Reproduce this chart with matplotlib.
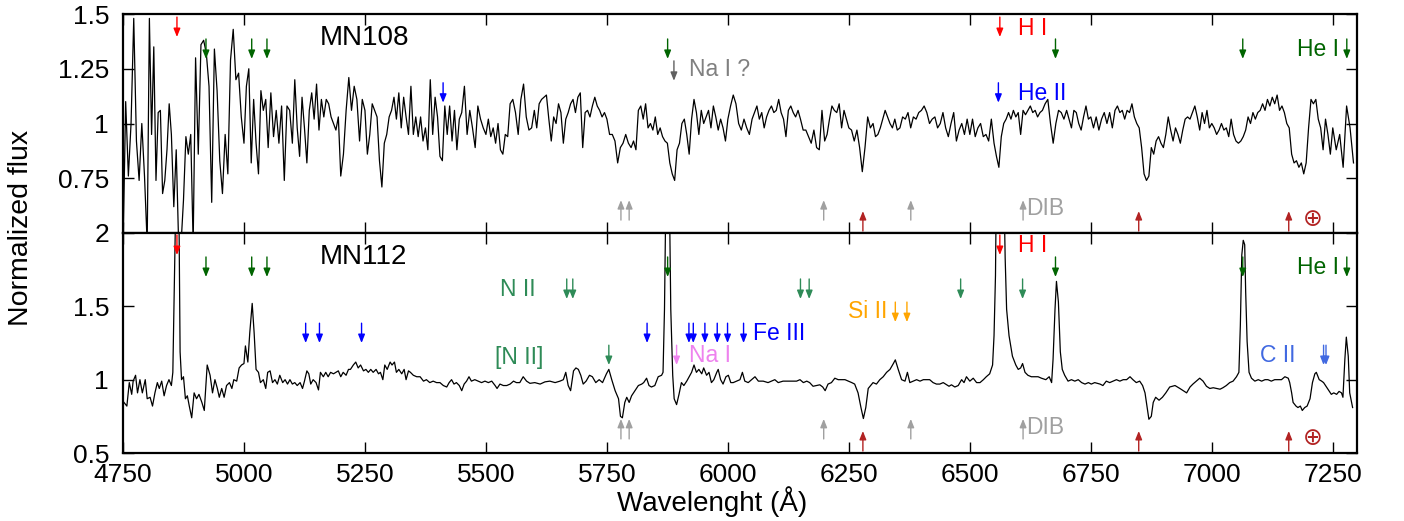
"""
Spectra of MN108 and MN112 with line identifications
"""

import numpy as np
import matplotlib
matplotlib.use("Agg")
import matplotlib.pyplot as plt
import matplotlib.transforms as mtransforms
from matplotlib.ticker import FuncFormatter

# ---- MN108 (top), flux read in 50 A blocks starting at 4750 ----
top_block_start = 4750
top_block_width = 50
top_flux_blocks = [
    [0.42, 1.10, 0.76, 1.00, 1.48, 0.92, 0.74, 1.00, 0.76],
    [0.45, 1.48, 0.95, 1.35, 0.74, 1.05, 1.06, 0.68, 0.74, 0.88, 1.09],
    [0.95, 0.62, 0.88, 0.45, 0.45, 0.65, 0.94, 0.86, 0.95, 0.45],
    [1.30, 0.86, 1.36, 1.38, 1.32, 1.17, 0.64, 1.34, 1.15],
    [0.83, 0.68, 0.95, 0.77, 1.29, 1.43, 1.20, 1.23, 1.03],
    [0.91, 1.17, 1.25, 0.82, 1.11, 0.91, 0.77, 1.15, 1.06, 1.11],
    [0.89, 1.14, 0.94, 1.06, 0.91, 1.08, 0.74, 1.08, 1.06],
    [0.91, 1.20, 0.98, 0.85, 1.12, 0.98, 0.82, 1.06, 1.14, 1.02],
    [1.18, 0.97, 1.11, 1.03, 1.11, 1.09, 1.03, 1.00, 0.97, 1.03],
    [0.76, 0.86, 1.06, 1.21, 1.06, 1.17, 1.11, 0.92, 1.11],
    [1.06, 0.86, 0.95, 1.09, 1.06, 1.03, 0.83, 0.71, 0.91, 0.95],
    [1.03, 1.06, 1.12, 1.02, 1.14, 0.98, 1.12, 1.03, 0.95, 1.17],
    [0.95, 1.03, 0.94, 1.03, 0.92, 0.98, 0.88, 1.20, 0.95, 1.12],
    [1.03, 0.85, 0.83, 1.08, 0.95, 1.08, 0.92, 1.06, 0.88, 1.02],
    [1.05, 1.17, 0.95, 1.06, 0.98, 0.89, 1.08, 1.02, 0.98],
    [0.95, 1.02, 0.94, 0.98, 0.91, 1.00, 0.88, 0.86, 0.95, 0.94],
    [1.09, 1.11, 1.05, 0.95, 1.11, 1.18, 1.03, 0.97, 0.98],
    [1.06, 0.98, 1.09, 1.11, 1.12, 1.13, 1.02, 0.92, 1.03, 1.00],
    [1.09, 1.05, 0.91, 1.02, 1.05, 1.09, 1.11, 1.05, 1.12, 1.14],
    [0.89, 1.05, 1.06, 1.03, 1.08, 1.12, 1.08, 1.06, 1.03, 1.05],
    [1.02, 0.95, 0.95, 0.92, 0.82, 0.89, 0.91, 0.95, 0.91],
    [0.89, 0.92, 0.88, 1.06, 1.08, 1.02, 1.09, 0.98, 1.00, 0.97],
    [1.03, 0.95, 0.98, 0.94, 0.92, 0.91, 0.82, 0.77, 0.74, 0.88],
    [0.91, 1.00, 1.02, 0.95, 0.86, 1.02, 1.11, 1.05, 0.95, 1.06],
    [1.00, 1.03, 1.06, 0.98, 1.08, 1.03, 0.97, 1.02, 0.98, 0.92],
    [1.02, 1.08, 1.13, 1.09, 1.00, 0.97, 1.02, 0.98, 0.95],
    [1.02, 1.05, 1.08, 1.02, 1.05, 0.98, 1.03, 1.06, 1.08, 1.05],
    [1.06, 1.11, 1.05, 1.02, 0.94, 1.06, 1.08, 1.05, 1.03, 1.06],
    [1.02, 0.97, 0.97, 0.94, 0.91, 0.97, 0.89, 0.88, 1.06],
    [0.92, 0.95, 1.02, 1.08, 1.06, 1.05, 1.09, 0.98, 1.06, 1.02],
    [0.98, 0.97, 0.92, 0.97, 0.89, 0.78, 0.89, 1.03, 0.98],
    [1.00, 0.94, 0.95, 0.98, 1.02, 1.06, 1.03, 1.00, 0.98, 1.02],
    [0.97, 0.98, 1.03, 1.02, 1.05, 0.98, 1.03, 1.02, 1.05],
    [1.06, 1.08, 1.05, 1.00, 1.02, 1.03, 0.98, 1.00, 1.05],
    [0.98, 0.94, 1.00, 1.05, 0.92, 0.97, 1.00, 0.95, 1.02],
    [0.95, 1.02, 0.94, 0.98, 1.00, 0.94, 0.95, 0.92, 1.02],
    [0.91, 0.85, 0.80, 0.94, 1.00, 1.02, 1.05, 1.02, 1.06, 1.03],
    [1.05, 0.95, 1.06, 1.04, 1.06, 1.08, 1.05, 1.06, 1.03, 1.05],
    [1.06, 1.09, 1.11, 1.00, 0.91, 1.00, 1.06, 1.05, 1.02],
    [1.06, 1.02, 0.98, 1.06, 1.05, 1.00, 0.97, 1.03, 1.08, 1.02],
    [1.03, 0.98, 1.03, 0.97, 1.02, 1.05, 1.00, 1.05, 0.98],
    [1.06, 1.08, 1.05, 1.06, 1.02, 1.06, 1.05, 1.09, 1.03, 1.00],
    [0.98, 0.89, 0.77, 0.74, 0.76, 0.89, 0.86, 0.92, 0.94, 0.91],
    [0.89, 0.95, 1.03, 0.97, 0.92, 0.98, 0.95, 0.91, 0.97, 1.02],
    [1.03, 1.02, 1.05, 1.08, 1.03, 0.97, 1.05, 1.00, 1.06, 0.98],
    [1.00, 0.98, 0.95, 0.97, 1.00, 0.97, 0.98, 0.94, 1.02, 0.95],
    [0.92, 0.91, 0.92, 0.94, 0.97, 1.03, 1.00, 1.05, 1.02, 1.05],
    [1.06, 1.09, 1.06, 1.11, 1.08, 1.12, 1.09, 1.13, 1.06, 1.08],
    [1.05, 1.00, 0.98, 0.86, 0.82, 0.83, 0.80, 0.82, 0.77, 0.82],
    [0.98, 1.11, 1.09, 1.11, 1.02, 0.98, 0.88, 1.02, 0.95, 0.86],
    [0.98, 0.88, 0.95, 0.80, 1.08, 0.98, 0.82],
]

# ---- MN112 (bottom) ----
bot_wl = [4752, 4758, 4763, 4768, 4771, 4776, 4780, 4785, 4790, 4796, 4800, 4806, 4811, 4816,
          4821, 4825, 4830, 4835, 4840, 4845, 4850, 4853, 4857, 4860, 4865, 4868, 4871, 4875,
          4879, 4883, 4887, 4892, 4897, 4902, 4907, 4913, 4918, 4924, 4930, 4935, 4940, 4945,
          4949, 4954, 4959, 4964, 4970, 4975, 4979, 4985, 4990, 4995, 5000, 5003, 5008, 5012,
          5017, 5021, 5025, 5030, 5034, 5040, 5045, 5049, 5054, 5059, 5064, 5069, 5074, 5080,
          5085, 5090, 5095, 5100, 5105, 5110, 5116, 5121, 5125, 5130, 5134, 5138, 5143, 5149,
          5154, 5158, 5164, 5169, 5174, 5179, 5185, 5190, 5195, 5200, 5205, 5211, 5216, 5220,
          5226, 5231, 5236, 5241, 5247, 5252, 5257, 5262, 5267, 5273, 5278, 5282, 5287, 5291,
          5296, 5302, 5306, 5311, 5315, 5320, 5326, 5331, 5335, 5340, 5344, 5350, 5357, 5364,
          5371, 5377, 5384, 5391, 5398, 5405, 5412, 5419, 5424, 5429, 5434, 5439, 5445, 5450,
          5455, 5460, 5465, 5470, 5477, 5484, 5491, 5498, 5505, 5512, 5519, 5523, 5529, 5536,
          5543, 5550, 5557, 5563, 5570, 5577, 5584, 5591, 5601, 5612, 5622, 5632, 5643, 5653,
          5660, 5665, 5670, 5675, 5681, 5686, 5691, 5696, 5701, 5707, 5714, 5720, 5727, 5734,
          5741, 5749, 5754, 5760, 5767, 5774, 5778, 5782, 5787, 5791, 5796, 5801, 5808, 5815,
          5822, 5826, 5832, 5837, 5842, 5849, 5856, 5863, 5866, 5869, 5872, 5879, 5882, 5886,
          5889, 5894, 5899, 5904, 5909, 5915, 5920, 5925, 5930, 5935, 5940, 5946, 5950, 5956,
          5961, 5966, 5971, 5977, 5980, 5985, 5990, 5996, 6001, 6006, 6011, 6018, 6025, 6030,
          6035, 6042, 6049, 6056, 6063, 6073, 6083, 6090, 6097, 6104, 6114, 6125, 6135, 6142,
          6149, 6156, 6163, 6169, 6176, 6183, 6190, 6196, 6201, 6207, 6214, 6221, 6228, 6235,
          6242, 6249, 6256, 6262, 6269, 6275, 6280, 6285, 6290, 6295, 6300, 6307, 6314, 6321,
          6328, 6335, 6342, 6346, 6352, 6359, 6366, 6371, 6376, 6383, 6390, 6397, 6404, 6410,
          6417, 6424, 6431, 6438, 6445, 6452, 6457, 6462, 6469, 6476, 6483, 6488, 6493, 6500,
          6507, 6514, 6521, 6528, 6534, 6541, 6547, 6550, 6553, 6555, 6561, 6570, 6573, 6576,
          6581, 6588, 6595, 6600, 6605, 6609, 6614, 6620, 6627, 6634, 6641, 6648, 6657, 6664,
          6669, 6672, 6676, 6679, 6683, 6687, 6691, 6696, 6703, 6710, 6717, 6724, 6731, 6738,
          6745, 6751, 6758, 6769, 6775, 6782, 6789, 6796, 6803, 6810, 6817, 6824, 6831, 6837,
          6844, 6851, 6857, 6862, 6866, 6870, 6875, 6879, 6884, 6891, 6898, 6905, 6913, 6924,
          6934, 6941, 6948, 6955, 6961, 6968, 6975, 6982, 6989, 6996, 7003, 7010, 7017, 7023,
          7030, 7037, 7044, 7051, 7056, 7059, 7062, 7065, 7068, 7070, 7073, 7077, 7082, 7089,
          7096, 7103, 7110, 7116, 7123, 7130, 7137, 7144, 7151, 7158, 7161, 7165, 7168, 7174,
          7178, 7183, 7187, 7192, 7197, 7203, 7208, 7213, 7216, 7222, 7227, 7231, 7237, 7242,
          7247, 7252, 7258, 7263, 7268, 7271, 7275, 7278, 7282, 7285, 7291]
bot_flux = [0.845, 0.82, 0.98, 0.90, 0.99, 1.03, 0.91, 1.00, 0.91, 1.00, 0.87, 0.88, 0.82, 0.91,
            0.98, 0.94, 0.99, 0.89, 0.96, 1.00, 0.96, 1.05, 1.83, 2.40, 2.40, 1.19, 1.00, 1.02,
            0.87, 0.89, 0.82, 0.74, 0.91, 0.87, 0.90, 0.845, 0.79, 1.10, 1.03, 0.91, 1.00, 0.94,
            0.88, 0.94, 0.88, 0.96, 0.98, 0.94, 1.00, 0.99, 1.08, 1.10, 1.11, 1.23, 1.12, 1.32,
            1.52, 1.32, 1.07, 1.05, 0.98, 1.00, 0.94, 1.05, 1.06, 0.98, 1.00, 0.97, 1.03, 0.98,
            1.00, 0.97, 1.00, 0.97, 0.98, 0.96, 0.98, 0.94, 0.99, 1.06, 1.04, 0.97, 1.00, 0.98,
            0.93, 1.05, 1.02, 1.05, 1.02, 1.05, 1.04, 1.05, 1.06, 1.02, 1.05, 1.03, 1.07, 1.07,
            1.10, 1.12, 1.08, 1.10, 1.06, 1.07, 1.05, 1.07, 1.05, 1.07, 1.04, 1.05, 1.00, 1.10,
            1.07, 1.12, 1.10, 1.12, 1.05, 1.07, 1.04, 1.07, 1.00, 1.06, 1.05, 1.03, 1.02, 1.02,
            0.99, 1.00, 0.98, 0.99, 0.98, 0.98, 0.96, 0.95, 0.98, 1.00, 0.97, 0.98, 0.96, 0.925,
            0.97, 0.99, 1.02, 0.99, 1.00, 0.99, 0.98, 0.99, 0.98, 0.99, 0.96, 0.94, 0.97, 0.96,
            0.96, 0.97, 0.99, 0.98, 0.98, 1.02, 0.99, 0.975, 0.98, 0.97, 0.985, 0.99, 0.98, 0.99,
            1.00, 1.05, 0.96, 0.925, 1.06, 1.08, 1.07, 1.03, 0.97, 0.99, 1.03, 1.02, 0.98, 1.00,
            0.98, 1.04, 1.07, 1.00, 0.925, 0.87, 0.75, 0.74, 0.845, 0.88, 0.845, 0.89, 0.925, 0.96,
            0.97, 0.98, 1.01, 0.96, 0.95, 0.96, 1.02, 1.03, 1.05, 1.48, 2.30, 2.30, 1.48, 1.03,
            0.87, 0.83, 0.90, 0.98, 0.96, 0.99, 1.02, 1.05, 1.10, 1.05, 1.07, 1.04, 1.08, 1.03,
            1.05, 0.98, 1.00, 1.05, 1.07, 1.00, 0.97, 1.02, 1.03, 0.98, 0.98, 0.99, 1.00, 1.05,
            0.99, 0.98, 1.00, 1.02, 0.99, 0.99, 0.98, 0.99, 1.00, 0.98, 0.99, 0.99, 0.99, 0.99,
            1.00, 0.98, 0.99, 0.98, 0.955, 0.96, 0.965, 0.95, 0.925, 0.97, 0.98, 1.01, 1.00, 1.00,
            1.00, 0.99, 0.98, 0.97, 0.91, 0.81, 0.735, 0.81, 0.94, 0.96, 0.98, 0.97, 1.00, 1.02,
            1.05, 1.07, 1.11, 1.135, 1.07, 1.00, 0.99, 1.05, 0.98, 0.99, 1.00, 0.99, 1.00, 1.00,
            1.00, 0.98, 0.97, 0.97, 0.98, 0.965, 0.955, 0.965, 0.95, 0.96, 1.00, 0.98, 1.02, 0.99,
            1.01, 0.98, 0.98, 1.00, 1.02, 1.04, 1.10, 1.30, 1.71, 2.40, 2.40, 2.40, 1.83, 1.48,
            1.30, 1.16, 1.10, 1.07, 1.08, 1.11, 1.05, 1.03, 1.02, 1.02, 1.02, 1.01, 1.00, 1.02,
            0.98, 1.14, 1.48, 1.67, 1.53, 1.19, 1.07, 1.03, 0.99, 1.00, 0.99, 1.00, 0.98, 0.97,
            0.98, 0.97, 0.98, 0.97, 0.96, 0.99, 0.98, 0.99, 1.00, 0.99, 1.00, 1.00, 1.02, 1.00,
            0.98, 0.99, 0.96, 0.91, 0.82, 0.73, 0.75, 0.845, 0.88, 0.86, 0.88, 0.91, 0.95, 0.96,
            0.94, 0.925, 0.91, 0.95, 0.97, 0.99, 1.01, 0.99, 0.955, 0.94, 0.945, 0.94, 0.935, 0.945,
            0.96, 0.98, 0.99, 1.02, 1.05, 1.37, 1.85, 1.95, 1.92, 1.60, 1.26, 1.05, 1.01, 0.99,
            1.00, 0.99, 1.00, 1.00, 0.99, 1.00, 1.00, 1.00, 1.02, 1.01, 0.98, 0.91, 0.845, 0.82,
            0.81, 0.82, 0.79, 0.81, 0.82, 0.87, 0.98, 1.04, 1.05, 1.00, 0.99, 0.98, 0.95, 0.925,
            0.90, 0.91, 0.90, 0.92, 0.91, 0.88, 1.14, 1.29, 1.16, 0.91, 0.81]

# ---- line identifications (wavelengths, A) ----
h_lines = [4861.5, 6562]
he1_lines = [4921.5, 5016, 5047.5, 5875.5, 6677, 7064, 7279]
he2_lines = [5411.5, 6559]
na1_q_lines = [5888.5]
dib_lines = [5779, 5796, 6198, 6378, 6610]
telluric_lines = [6279, 6849, 7159]
n2_lines = [5667, 5679.5, 6150, 6168, 6481, 6609]
n2_forb_lines = [5754]
fe3_lines = [5127.5, 5156, 5243, 5833, 5919.5, 5928.5, 5952.5, 5978, 5999.3, 6032.4]
na1_lines = [5894]
si2_lines = [6346, 6370]
c2_lines = [7231, 7236]

c_h = "#ff0000"
c_he1 = "#006400"
c_he2 = "#0000ff"
c_gray = "#808080"
c_dib = "#a0a0a0"
c_tell = "#b22222"
c_n2 = "#2e8b57"
c_na1 = "#ee82ee"
c_si2 = "#ffa500"
c_c2 = "#4169e1"

plt.rcParams["font.family"] = ["Liberation Sans", "DejaVu Sans"]
plt.rcParams["font.size"] = 16.5

fig = plt.figure(figsize=(14.04, 5.21), dpi=100)
ax_top = fig.add_axes([0.0876, 0.5528, 0.8789, 0.4203])
ax_bot = fig.add_axes([0.0876, 0.1305, 0.8789, 0.4223])

# build wavelength grid for the top blocks
top_wl = []
top_flux = []
for i, blk in enumerate(top_flux_blocks):
    start = top_block_start + i * top_block_width
    top_wl.extend(np.linspace(start, start + top_block_width, len(blk), endpoint=False))
    top_flux.extend(blk)

ax_top.plot(top_wl, top_flux, color="black", lw=0.9, zorder=2)
ax_bot.plot(bot_wl, bot_flux, color="black", lw=0.9, zorder=2)

fmt = FuncFormatter(lambda v, p: "%g" % v)
for ax in (ax_top, ax_bot):
    ax.set_xlim(4750, 7300)
    ax.set_xticks(np.arange(4750, 7300, 250))
    ax.tick_params(direction="in", length=8, width=1, top=True, right=True,
                   labelsize=19, pad=10)
    ax.tick_params(axis="x", pad=7)
    ax.yaxis.set_major_formatter(fmt)
    for sp in ax.spines.values():
        sp.set_linewidth(1.6)

ax_top.set_ylim(0.5, 1.5)
ax_top.set_yticks([0.75, 1, 1.25, 1.5])
ax_top.tick_params(labelbottom=False)
ax_bot.set_ylim(0.5, 2)
ax_bot.set_yticks([0.5, 1, 1.5, 2])


def arrows(ax, waves, y0, y1, color):
    # y0 -> y1 in axes fraction, arrow points toward y1
    trans = mtransforms.blended_transform_factory(ax.transData, ax.transAxes)
    for w in waves:
        ax.annotate("", xy=(w, y1), xytext=(w, y0), xycoords=trans, textcoords=trans,
                    arrowprops=dict(arrowstyle="-|>,head_length=0.5,head_width=0.2",
                                    color=color, lw=1.0, shrinkA=0, shrinkB=0,
                                    mutation_scale=10), zorder=5)


def label(ax, w, y, s, color, size=16.5):
    trans = mtransforms.blended_transform_factory(ax.transData, ax.transAxes)
    ax.text(w, y, s, color=color, transform=trans, ha="left", va="center",
            fontsize=size, zorder=6)


# top panel
arrows(ax_top, h_lines, 0.986, 0.895, c_h)
arrows(ax_top, he1_lines, 0.886, 0.795, c_he1)
arrows(ax_top, na1_q_lines, 0.786, 0.695, "#606060")
arrows(ax_top, he2_lines, 0.686, 0.595, c_he2)
arrows(ax_top, dib_lines, 0.059, 0.15, c_dib)
arrows(ax_top, telluric_lines, 0.009, 0.10, c_tell)
label(ax_top, 5157, 0.89, "MN108", "black", 20)
label(ax_top, 5919, 0.745, "Na I ?", c_gray)
label(ax_top, 6599, 0.936, "H I", c_h)
label(ax_top, 6599, 0.636, "He II", c_he2)
label(ax_top, 7176, 0.836, "He I", c_he1)
label(ax_top, 6617, 0.114, "DIB", c_dib)
trans = mtransforms.blended_transform_factory(ax_top.transData, ax_top.transAxes)
ax_top.text(7208, 0.064, "\u2295", color=c_tell, transform=trans, ha="center",
            va="center", fontsize=17, family=["DejaVu Sans"])

# bottom panel
arrows(ax_bot, h_lines, 0.991, 0.90, c_h)
arrows(ax_bot, he1_lines, 0.891, 0.80, c_he1)
arrows(ax_bot, n2_lines, 0.791, 0.70, c_n2)
arrows(ax_bot, si2_lines, 0.686, 0.595, c_si2)
arrows(ax_bot, fe3_lines, 0.59, 0.50, c_he2)
arrows(ax_bot, n2_forb_lines, 0.49, 0.40, c_n2)
arrows(ax_bot, na1_lines, 0.49, 0.40, c_na1)
arrows(ax_bot, c2_lines, 0.49, 0.40, c_c2)
arrows(ax_bot, dib_lines, 0.064, 0.155, c_dib)
arrows(ax_bot, telluric_lines, 0.009, 0.10, c_tell)
label(ax_bot, 5157, 0.891, "MN112", "black", 20)
label(ax_bot, 5529, 0.741, "N II", c_n2)
label(ax_bot, 5519, 0.432, "[N II]", c_n2)
label(ax_bot, 6052, 0.545, "Fe III", c_he2)
label(ax_bot, 5919, 0.441, "Na I", c_na1)
label(ax_bot, 6248, 0.641, "Si II", c_si2)
label(ax_bot, 6599, 0.941, "H I", c_h)
label(ax_bot, 7176, 0.841, "He I", c_he1)
label(ax_bot, 7099, 0.441, "C II", c_c2)
label(ax_bot, 6617, 0.118, "DIB", c_dib)
trans = mtransforms.blended_transform_factory(ax_bot.transData, ax_bot.transAxes)
ax_bot.text(7208, 0.068, "\u2295", color=c_tell, transform=trans, ha="center",
            va="center", fontsize=17, family=["DejaVu Sans"])

fig.text(0.015, 1 - 228 / 521, "Normalized flux", rotation=90, ha="center",
         va="center", fontsize=20.5)
fig.text(712 / 1404, 1 - 502 / 521, "Wavelenght (\u00c5)", ha="center", va="center",
         fontsize=20)

fig.savefig("out.png", dpi=100)
